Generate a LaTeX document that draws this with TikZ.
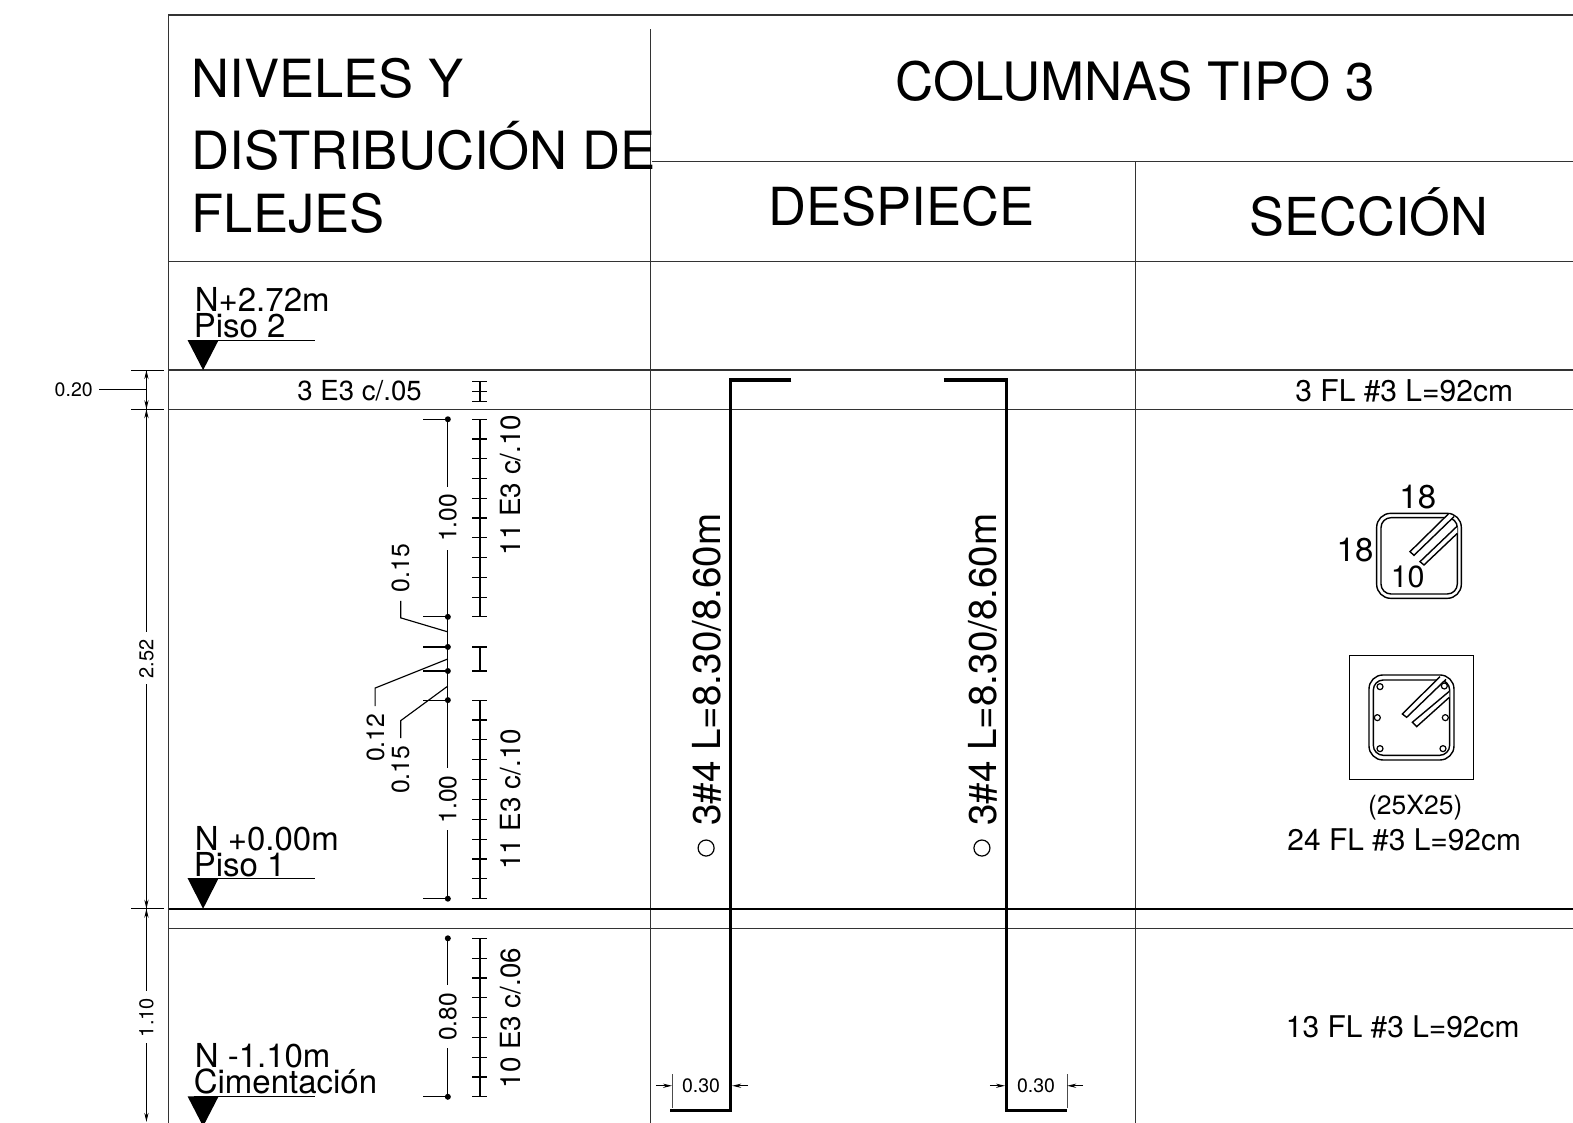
\documentclass[tikz,border=0pt]{standalone}
\usepackage{fontspec}
\setmainfont{TeX Gyre Heros}
\usetikzlibrary{arrows.meta}
\newcommand{\fsz}[1]{\fontsize{#1}{#1}\selectfont}
\tikzset{
 grid/.style={line width=1.3pt,draw=black!80},
 thin line/.style={line width=1.15pt,draw=black},
 rebar/.style={line width=3.3pt,draw=black,line cap=butt,line join=miter},
 barline/.style={line width=1.9pt,draw=black},
 hook/.style={line width=1.4pt,draw=black,fill=white},
 txt/.style={inner sep=0pt,anchor=base,text=black},
 ltxt/.style={inner sep=0pt,anchor=base west,text=black},
 rtxt/.style={inner sep=0pt,anchor=base,rotate=90,text=black},
 dimarr/.style={line width=1pt,-{Stealth[length=9pt,width=4.2pt]}},
 dotm/.style={circle,fill=black,inner sep=0pt,minimum size=6pt},
 lvl/.style={fill=black,draw=none}
}
\begin{document}
\begin{tikzpicture}[x=1.003pt,y=-1.003pt]
\clip (0,0) rectangle (1568.3,1119.6);
\fill[white] (0,0) rectangle (1568.3,1119.6);
% table frame
\draw[grid] (1570,15) -- (168,15) -- (168,1125);
\draw[grid] (648.5,29) -- (648.5,1125);
\draw[grid] (1132,161) -- (1132,1125);
\draw[grid] (650,161) -- (1570,161);
\draw[grid] (168,261) -- (1570,261);
\draw[grid] (168,369) -- (1570,369);
\draw[grid] (168,408) -- (1570,408);
\draw[line width=1.9pt] (168,906) -- (1570,906);
\draw[grid] (168,925.4) -- (1570,925.4);
% headings
\node[ltxt,font=\fsz{52.6}] (h1) at (191,97) {NIVELES Y};
\node[ltxt,font=\fsz{52.7}] (h2) at (191,169) {DISTRIBUCIÓN DE};
\node[ltxt,font=\fsz{52.6}] (h3) at (191,232) {FLEJES};
\node[txt,font=\fsz{52.9}] (h4) at (1132,100) {COLUMNAS TIPO 3};
\node[txt,font=\fsz{52.5}] (h5) at (899,225) {DESPIECE};
\node[txt,font=\fsz{52.3}] (h6) at (1365,235) {SECCIÓN};
% levels
\node[ltxt,font=\fsz{33}] (n1) at (194,310.5) {N+2.72m};
\node[ltxt,font=\fsz{33}] (p1) at (193,336.5) {Piso 2};
\draw[thin line] (193,339.5) -- (314,339.5);
\fill[lvl] (187,339) -- (218,339) -- (202.5,369) -- cycle;
\node[ltxt,font=\fsz{33}] (n2) at (194,847.5) {N +0.00m};
\node[ltxt,font=\fsz{33}] (p2) at (193,873.5) {Piso 1};
\draw[thin line] (193,875.5) -- (314,875.5);
\fill[lvl] (187,875.5) -- (218,875.5) -- (202.5,906) -- cycle;
\node[ltxt,font=\fsz{33}] (n3) at (194,1064.5) {N -1.10m};
\node[ltxt,font=\fsz{33}] (p3) at (193,1090) {Cimentación};
\draw[thin line] (193,1093) -- (314,1093);
\fill[lvl] (187,1093) -- (218,1093) -- (202.5,1123) -- cycle;
% left dimension chain
\foreach \yy in {369,408,906} \draw[thin line] (131,\yy) -- (163.5,\yy);
\draw[thin line] (146,369) -- (146,630);
\draw[thin line] (146,682) -- (146,988);
\draw[thin line] (146,1040) -- (146,1112);
\draw[thin line] (99,388.5) -- (146,388.5);
\draw[dimarr] (146,385) -- (146,369);
\draw[dimarr] (146,393) -- (146,408);
\draw[dimarr] (146,424) -- (146,408);
\draw[dimarr] (146,890) -- (146,906);
\draw[dimarr] (146,922) -- (146,906);
\draw[dimarr] (146,1104) -- (146,1118.5);
\node[txt,font=\fsz{19.5}] (d1) at (73.5,395.5) {0.20};
\node[rtxt,font=\fsz{20}] (d2) at (153,657) {2.52};
\node[rtxt,font=\fsz{20}] (d3) at (153,1014.5) {1.10};
% stirrup zone text
\node[txt,font=\fsz{27.6}] (e1) at (358.5,399) {3 E3 c/.05};
\node[rtxt,font=\fsz{27.8}] (e2) at (518.5,483.5) {11 E3 c/.10};
\node[rtxt,font=\fsz{27.8}] (e3) at (518.5,797) {11 E3 c/.10};
\node[rtxt,font=\fsz{27.8}] (e4) at (518.5,1015) {10 E3 c/.06};
% stirrup ticks
\draw[barline] (478.5,380) -- (478.5,400);
\foreach \yy in {380,390,400} \draw[thin line] (471,\yy) -- (486,\yy);
\draw[barline] (478.5,418) -- (478.5,615);
\foreach \i in {0,...,10} \draw[thin line] (471,418+\i*19.7) -- (486,418+\i*19.7);
\draw[thin line] (478.5,645) -- (478.5,669);
\foreach \yy in {645,669} \draw[thin line] (471,\yy) -- (486,\yy);
\draw[barline] (478.5,698) -- (478.5,896);
\foreach \i in {0,...,10} \draw[thin line] (471,698+\i*19.8) -- (486,698+\i*19.8);
\draw[barline] (478.5,935.5) -- (478.5,1093.5);
\foreach \i in {0,...,8} \draw[thin line] (471,935.5+\i*19.75) -- (486,935.5+\i*19.75);
% dimension dots line
\draw[thin line] (446.5,418) -- (446.5,485.6);
\draw[thin line] (446.5,548.4) -- (446.5,765.7);
\draw[thin line] (446.5,828) -- (446.5,896);
\draw[thin line] (446.5,935.5) -- (446.5,982);
\draw[thin line] (446.5,1045) -- (446.5,1093.5);
\foreach \yy in {418,615,645,669,698,896,1093.5} \draw[thin line] (422,\yy) -- (446.5,\yy);
\foreach \yy in {418,615,645,669,698,896,935.5,1093.5} \node[dotm] at (446.5,\yy) {};
\node[rtxt,font=\fsz{24.6}] (l1) at (455,516.5) {1.00};
\node[rtxt,font=\fsz{24.6}] (l2) at (455,797) {1.00};
\node[rtxt,font=\fsz{24.6}] (l3) at (455,1014) {0.80};
\node[rtxt,font=\fsz{24.8}] (l4) at (408,566.5) {0.15};
\node[rtxt,font=\fsz{24.8}] (l5) at (383,735.5) {0.12};
\node[rtxt,font=\fsz{24.8}] (l6) at (408,767.5) {0.15};
\draw[thin line] (446.5,630) -- (399.5,616) -- (399.5,599);
\draw[thin line] (446.5,657) -- (374,686) -- (374,704);
\draw[thin line] (446.5,684) -- (399.5,718.5) -- (399.5,736);
% rebars
\draw[rebar] (789,379) -- (728,379) -- (728,1107) -- (668,1107);
\draw[rebar] (941,379) -- (1003.5,379) -- (1003.5,1107) -- (1064,1107);
\node[rtxt,font=\fsz{38.6}] (r1) at (718.5,667.5) {3\#4 L=8.30/8.60m};
\node[rtxt,font=\fsz{38.6}] (r2) at (994,667.5) {3\#4 L=8.30/8.60m};
\draw[line width=1.2pt] (704,845.5) circle (8);
\draw[line width=1.2pt] (979,845.5) circle (8);
% 0.30 dims
\node[txt,font=\fsz{19.5}] (t1) at (699,1089.5) {0.30};
\node[txt,font=\fsz{19.5}] (t2) at (1033,1089.5) {0.30};
\draw[line width=.9pt,draw=black!70] (670,1071) -- (670,1105);
\draw[line width=.9pt,draw=black!70] (1064,1071) -- (1064,1105);
\draw[dimarr] (654,1082.5) -- (670,1082.5);
\draw[dimarr] (746,1082.5) -- (730,1082.5);
\draw[dimarr] (987,1082.5) -- (1002,1082.5);
\draw[dimarr] (1080,1082.5) -- (1064,1082.5);
% section texts
\node[txt,font=\fsz{30}] (s1) at (1400,400) {3 FL \#3 L=92cm};
\node[txt,font=\fsz{33}] (s2) at (1413.5,507) {18};
\node[txt,font=\fsz{33}] (s3) at (1351,560) {18};
\node[txt,font=\fsz{26.5}] (s5) at (1411,812.5) {(25X25)};
\node[txt,font=\fsz{29.9}] (s6) at (1400,848) {24 FL \#3 L=92cm};
\node[txt,font=\fsz{29.9}] (s7) at (1398.5,1034) {13 FL \#3 L=92cm};
% top stirrup (zoom coordinates)
\begin{scope}[shift={(1316.05,468.6)},x=.3333pt,y=-.3333pt]
\draw[line width=1.4pt,rounded corners=14pt] (170,130) rectangle (424,385);
\draw[line width=1.4pt,rounded corners=10pt] (183,143) rectangle (412,372);
\draw[hook] (385,132) -- (270,245) -- (282,256) -- (402,140);
\draw[hook] (412,168) -- (300,275) -- (312,285) -- (412,190);
\end{scope}
\node[txt,font=\fsz{30.5}] (s4) at (1403.5,586) {10};
% bottom section (zoom coordinates)
\begin{scope}[shift={(1316.05,468.6)},x=.3333pt,y=-.3333pt]
\draw[line width=1.1pt] (88,557) rectangle (461,929);
\draw[line width=1.4pt,rounded corners=14pt] (147,615) rectangle (402,870);
\draw[line width=1.4pt,rounded corners=10pt] (160,630) rectangle (389,856);
\draw[hook] (360,620) -- (247,732) -- (260,742) -- (378,628);
\draw[hook] (388,664) -- (277,757) -- (290,770) -- (388,682);
\foreach \cx/\cy in {180/650,373/648,172/743,376/743,180/836,369/836}
  \draw[line width=1.2pt,fill=white] (\cx,\cy) circle (9);
\end{scope}
\end{tikzpicture}
\end{document}
